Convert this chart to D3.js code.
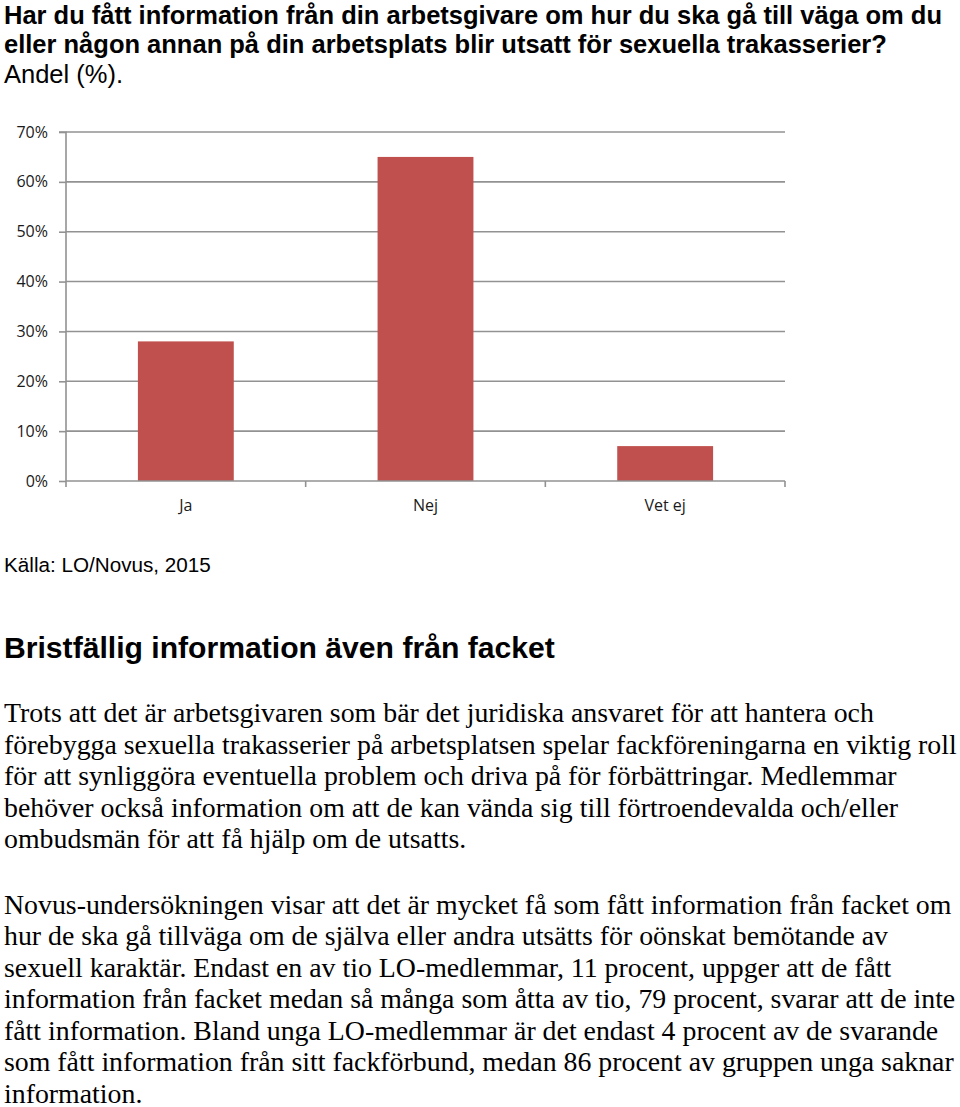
<!DOCTYPE html>
<html><head><meta charset="utf-8">
<script src="https://cdn.jsdelivr.net/npm/d3@7"></script>
<style>
html,body{margin:0;padding:0;background:#fff;}
svg{display:block;}
</style>
</head><body>
<svg id="c" width="960" height="1107"></svg>
<script>
// ---- data ----
const categories = ["Ja", "Nej", "Vet ej"];
const values = [28, 65, 7];            // percent
const yTicks = [0, 10, 20, 30, 40, 50, 60, 70];
const yTickLabels = ["0%", "10%", "20%", "30%", "40%", "50%", "60%", "70%"];

const titleLines = [
  "Har du fått information från din arbetsgivare om hur du ska gå till väga om du",
  "eller någon annan på din arbetsplats blir utsatt för sexuella trakasserier?"
];
const subtitle = "Andel (%).";
const source = "Källa: LO/Novus, 2015";
const heading = "Bristfällig information även från facket";
const para1 = [
  "Trots att det är arbetsgivaren som bär det juridiska ansvaret för att hantera och",
  "förebygga sexuella trakasserier på arbetsplatsen spelar fackföreningarna en viktig roll",
  "för att synliggöra eventuella problem och driva på för förbättringar. Medlemmar",
  "behöver också information om att de kan vända sig till förtroendevalda och/eller",
  "ombudsmän för att få hjälp om de utsatts."
];
const para2 = [
  "Novus-undersökningen visar att det är mycket få som fått information från facket om",
  "hur de ska gå tillväga om de själva eller andra utsätts för oönskat bemötande av",
  "sexuell karaktär. Endast en av tio LO-medlemmar, 11 procent, uppger att de fått",
  "information från facket medan så många som åtta av tio, 79 procent, svarar att de inte",
  "fått information. Bland unga LO-medlemmar är det endast 4 procent av de svarande",
  "som fått information från sitt fackförbund, medan 86 procent av gruppen unga saknar",
  "information."
];

(function () {
const svg = d3.select("#c");

function fitText(family, weight, baseSize, refText, targetW) {
  const t = svg.append("text").attr("font-family", family).attr("font-weight", weight)
    .attr("font-size", baseSize).text(refText);
  const w = t.node().getComputedTextLength();
  t.remove();
  return baseSize * targetW / w;
}

const sansFam = "'Liberation Sans', Arial, Helvetica, sans-serif";
const serifFam = "'Liberation Serif', 'Times New Roman', serif";

// ---- title ----
const titleSize = fitText(sansFam, "bold", 22, titleLines[0], 938);
svg.selectAll("text.title").data(titleLines).join("text")
  .attr("class", "title")
  .attr("x", 4).attr("y", (d, i) => 23.5 + i * 29.5)
  .attr("font-family", sansFam).attr("font-weight", "bold")
  .attr("font-size", titleSize).attr("fill", "#000").text(d => d);
svg.append("text").attr("x", 4).attr("y", 83)
  .attr("font-family", sansFam).attr("font-size", titleSize).attr("fill", "#000").text(subtitle);

// ---- chart ----
const pLeft = 66, pRight = 785, pTop = 132, pBottom = 481;
const x = d3.scaleBand().domain(categories).range([pLeft, pRight]).padding(0);
const y = d3.scaleLinear().domain([0, 70]).range([pBottom, pTop]);
const gridColor = "#929292";
const axisFont = "'Open Sans', Calibri, sans-serif";
const axisSize = 16;

const g = svg.append("g");
g.selectAll("line.grid").data(yTicks.filter(d => d > 0)).join("line")
  .attr("class", "grid")
  .attr("x1", pLeft).attr("x2", pRight)
  .attr("y1", d => y(d)).attr("y2", d => y(d))
  .attr("stroke", gridColor).attr("stroke-width", 1.6);

const yAxis = d3.axisLeft(y).tickValues(yTicks).tickSize(7).tickPadding(11)
  .tickFormat((d, i) => yTickLabels[i]);
const ya = g.append("g").attr("transform", `translate(${pLeft},0)`).call(yAxis)
  .attr("font-family", axisFont).attr("font-size", axisSize);
ya.select(".domain").attr("stroke", gridColor).attr("stroke-width", 1.6)
  .attr("d", `M-7,${pTop}H0V${pBottom + 6}`);
ya.selectAll(".tick line").attr("stroke", gridColor).attr("stroke-width", 1.6);
ya.selectAll(".tick text").attr("font-family", axisFont).attr("font-size", axisSize).attr("fill", "#1a1a1a");

const barW = x.bandwidth() * 0.4;
g.selectAll("rect.bar").data(values).join("rect")
  .attr("class", "bar")
  .attr("x", (d, i) => x(categories[i]) + (x.bandwidth() - barW) / 2)
  .attr("width", barW)
  .attr("y", d => y(d))
  .attr("height", d => y(0) - y(d))
  .attr("fill", "#c0504d");

const xa = g.append("g").attr("transform", `translate(0,${pBottom})`)
  .call(d3.axisBottom(x).tickSize(0).tickPadding(19))
  .attr("font-family", axisFont).attr("font-size", axisSize);
xa.select(".domain").attr("stroke", gridColor).attr("stroke-width", 1.6).attr("d", `M${pLeft},0H${pRight}`);
xa.selectAll(".tick text").attr("font-family", axisFont).attr("font-size", axisSize).attr("fill", "#1a1a1a");
const bounds = categories.slice(1).map(c => x(c)).concat([pRight]);
xa.selectAll("line.bt").data(bounds).join("line").attr("class", "bt")
  .attr("x1", d => d).attr("x2", d => d).attr("y1", 0).attr("y2", 6)
  .attr("stroke", gridColor).attr("stroke-width", 1.6);

// ---- source ----
const srcSize = fitText(sansFam, "normal", 20, source, 207);
svg.append("text").attr("x", 4).attr("y", 571.5)
  .attr("font-family", sansFam).attr("font-size", srcSize).attr("fill", "#000").text(source);

// ---- heading ----
const hSize = fitText(sansFam, "bold", 28, heading, 551);
svg.append("text").attr("x", 4).attr("y", 658)
  .attr("font-family", sansFam).attr("font-weight", "bold").attr("font-size", hSize).attr("fill", "#000").text(heading);

// ---- body ----
const bSize = fitText(serifFam, "normal", 24, para1[1], 953);
svg.selectAll("text.p1").data(para1).join("text").attr("class", "p1")
  .attr("x", 4).attr("y", (d, i) => 722 + i * 31.6)
  .attr("font-family", serifFam).attr("font-size", bSize).attr("fill", "#000").text(d => d);
svg.selectAll("text.p2").data(para2).join("text").attr("class", "p2")
  .attr("x", 4).attr("y", (d, i) => 913.5 + i * 31.5)
  .attr("font-family", serifFam).attr("font-size", bSize).attr("fill", "#000").text(d => d);
})();
</script>
</body></html>
